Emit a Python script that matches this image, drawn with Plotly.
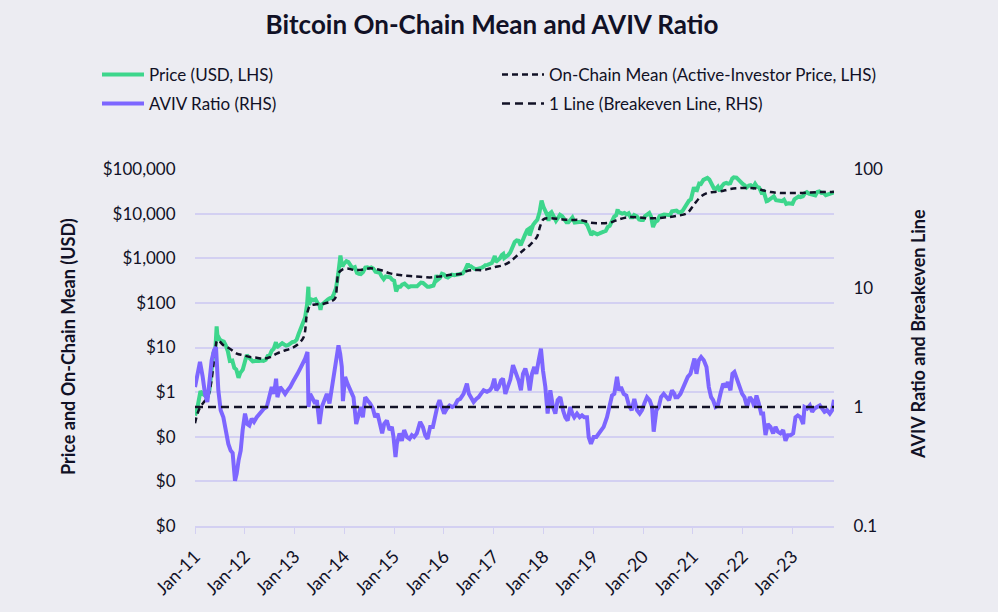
import pandas as pd
import plotly.graph_objects as go

# ---------------- data (decimal years / values) ----------------
price_t = [2011.00, 2011.04, 2011.08, 2011.11, 2011.16, 2011.21, 2011.25, 2011.29, 2011.33, 2011.37,
           2011.41, 2011.435, 2011.45, 2011.47, 2011.50, 2011.54, 2011.58, 2011.62, 2011.66, 2011.70,
           2011.75, 2011.79, 2011.83, 2011.875, 2011.91, 2011.96, 2012.00, 2012.04, 2012.08, 2012.125,
           2012.16, 2012.21, 2012.25, 2012.29, 2012.33, 2012.375, 2012.42, 2012.46, 2012.50, 2012.54,
           2012.58, 2012.625, 2012.64, 2012.67, 2012.71, 2012.75, 2012.79, 2012.83, 2012.875, 2012.92,
           2012.96, 2013.00, 2013.04, 2013.08, 2013.125, 2013.16, 2013.21, 2013.25, 2013.275, 2013.29,
           2013.33, 2013.375, 2013.42, 2013.46, 2013.50, 2013.52, 2013.54, 2013.58, 2013.625, 2013.67,
           2013.71, 2013.75, 2013.79, 2013.83, 2013.875, 2013.92, 2013.94, 2013.96, 2013.99, 2014.04,
           2014.08, 2014.12, 2014.16, 2014.21, 2014.25, 2014.29, 2014.33, 2014.375, 2014.42, 2014.46,
           2014.50, 2014.54, 2014.58, 2014.625, 2014.67, 2014.71, 2014.75, 2014.79, 2014.83, 2014.875,
           2014.92, 2014.96, 2015.00, 2015.04, 2015.08, 2015.125, 2015.16, 2015.21, 2015.25, 2015.29,
           2015.33, 2015.375, 2015.42, 2015.46, 2015.50, 2015.54, 2015.58, 2015.625, 2015.67, 2015.71,
           2015.75, 2015.79, 2015.83, 2015.85, 2015.875, 2015.92, 2015.96, 2016.00, 2016.04, 2016.08,
           2016.125, 2016.16, 2016.21, 2016.25, 2016.29, 2016.33, 2016.375, 2016.42, 2016.46, 2016.48,
           2016.50, 2016.54, 2016.58, 2016.625, 2016.67, 2016.71, 2016.75, 2016.79, 2016.83, 2016.875,
           2016.92, 2016.96, 2017.00, 2017.02, 2017.04, 2017.08, 2017.125, 2017.16, 2017.19, 2017.21,
           2017.25, 2017.29, 2017.33, 2017.375, 2017.42, 2017.46, 2017.50, 2017.54, 2017.58, 2017.625,
           2017.67, 2017.71, 2017.72, 2017.75, 2017.79, 2017.83, 2017.875, 2017.92, 2017.96, 2018.00,
           2018.04, 2018.08, 2018.10, 2018.125, 2018.16, 2018.21, 2018.25, 2018.29, 2018.33, 2018.375,
           2018.42, 2018.46, 2018.50, 2018.54, 2018.58, 2018.625, 2018.67, 2018.71, 2018.75, 2018.79,
           2018.83, 2018.875, 2018.92, 2018.96, 2019.00, 2019.04, 2019.08, 2019.125, 2019.16, 2019.21,
           2019.25, 2019.29, 2019.33, 2019.375, 2019.42, 2019.46, 2019.49, 2019.50, 2019.54, 2019.58,
           2019.625, 2019.67, 2019.71, 2019.75, 2019.79, 2019.82, 2019.875, 2019.92, 2019.96, 2020.00,
           2020.04, 2020.08, 2020.125, 2020.16, 2020.20, 2020.21, 2020.25, 2020.29, 2020.33, 2020.375,
           2020.42, 2020.46, 2020.50, 2020.54, 2020.58, 2020.625, 2020.67, 2020.71, 2020.75, 2020.79,
           2020.83, 2020.875, 2020.92, 2020.96, 2021.00, 2021.02, 2021.04, 2021.08, 2021.125, 2021.16,
           2021.21, 2021.25, 2021.29, 2021.33, 2021.375, 2021.42, 2021.46, 2021.50, 2021.54, 2021.58,
           2021.625, 2021.67, 2021.71, 2021.75, 2021.79, 2021.82, 2021.875, 2021.92, 2021.96, 2022.00,
           2022.04, 2022.08, 2022.125, 2022.16, 2022.21, 2022.25, 2022.29, 2022.33, 2022.375, 2022.42,
           2022.46, 2022.48, 2022.50, 2022.54, 2022.58, 2022.625, 2022.67, 2022.71, 2022.75, 2022.79,
           2022.83, 2022.875, 2022.92, 2022.96, 2023.00, 2023.04, 2023.08, 2023.125, 2023.16, 2023.21,
           2023.25, 2023.29, 2023.33, 2023.375, 2023.42, 2023.46, 2023.50, 2023.54, 2023.58, 2023.625,
           2023.67, 2023.71, 2023.75, 2023.79, 2023.81, 2023.835]
price_v = [0.30, 0.40, 0.70, 1.05, 0.90, 0.85, 0.78, 1.10, 3.0, 7.5,
           9.5, 29.6, 19, 17, 15, 14, 13.5, 11, 8.2, 5.0,
           5.1, 3.5, 3.2, 2.1, 2.7, 3.2, 5.2, 6.8, 6.0, 5.2,
           4.9, 5.0, 4.9, 5.0, 5.1, 5.0, 5.3, 6.5, 6.7, 8.5,
           9.3, 13.2, 10.0, 10.5, 11.8, 12.5, 11.7, 11.0, 11.4, 12.5,
           13.3, 13.5, 15.0, 20.0, 27.0, 34, 47, 93, 230, 90,
           120, 115, 120, 100, 88, 70, 90, 98, 110, 120,
           127, 130, 160, 210, 440, 1150, 850, 650, 750, 860,
           820, 680, 600, 630, 470, 450, 440, 490, 620, 630,
           600, 620, 590, 500, 480, 470, 390, 340, 390, 380,
           375, 330, 315, 180, 230, 230, 255, 270, 245, 225,
           235, 235, 225, 235, 260, 285, 280, 260, 230, 230,
           240, 245, 320, 420, 330, 360, 450, 432, 385, 370,
           400, 430, 415, 420, 430, 450, 455, 530, 700, 750,
           660, 660, 610, 575, 575, 610, 610, 640, 700, 710,
           750, 780, 990, 1130, 830, 920, 1000, 1180, 1250, 1010,
           1080, 1180, 1350, 1750, 2300, 2500, 2450, 1950, 2700, 3300,
           4300, 4600, 3200, 4300, 5600, 6400, 7300, 10800, 19500, 14000,
           11400, 9000, 6900, 10000, 10800, 8200, 6900, 8000, 9400, 8700,
           7500, 6400, 6400, 7300, 8200, 6300, 6500, 6500, 6600, 6450,
           6400, 5600, 4200, 3300, 3800, 3600, 3450, 3600, 3800, 3950,
           4100, 5000, 5300, 7200, 8600, 9200, 12500, 11000, 10500, 10000,
           10400, 9600, 10200, 8300, 8300, 9300, 8700, 7400, 7200, 7200,
           8800, 9350, 10300, 8600, 5000, 5400, 6600, 7000, 8800, 9300,
           9500, 9400, 9100, 9200, 11300, 11800, 11700, 10800, 10800, 11400,
           13800, 15900, 19500, 21000, 29000, 39000, 34000, 33500, 47000, 46000,
           57000, 58800, 63000, 57800, 48000, 37000, 36000, 40000, 32000, 41000,
           47000, 49000, 47000, 48000, 61000, 65000, 64000, 57000, 48000, 46300,
           43000, 38500, 42500, 43500, 39000, 46500, 40000, 38500, 30000, 31500,
           22500, 19000, 19300, 20800, 23300, 24300, 20000, 20000, 19500, 19100,
           20500, 16500, 17000, 16800, 16600, 20900, 23100, 24300, 23500, 24500,
           28500, 30300, 28000, 27000, 26800, 25600, 30500, 31400, 29200, 29300,
           26000, 26900, 26900, 27800, 28500, 30000]

mean_t = [2011.00, 2011.05, 2011.10, 2011.18, 2011.26, 2011.32, 2011.37, 2011.41, 2011.44, 2011.47,
          2011.57, 2011.70, 2011.84, 2011.97, 2012.11, 2012.24, 2012.37, 2012.51, 2012.64, 2012.78,
          2012.91, 2013.04, 2013.18, 2013.24, 2013.27, 2013.31, 2013.45, 2013.58, 2013.71, 2013.81,
          2013.85, 2013.88, 2013.95, 2014.05, 2014.18, 2014.32, 2014.52, 2014.72, 2014.92, 2015.12,
          2015.32, 2015.52, 2015.72, 2015.86, 2015.99, 2016.13, 2016.33, 2016.46, 2016.60, 2016.80,
          2017.00, 2017.20, 2017.33, 2017.47, 2017.60, 2017.73, 2017.87, 2017.93, 2018.00, 2018.14,
          2018.34, 2018.54, 2018.74, 2018.94, 2019.14, 2019.34, 2019.48, 2019.68, 2019.88, 2020.08,
          2020.28, 2020.48, 2020.68, 2020.88, 2021.02, 2021.15, 2021.29, 2021.42, 2021.55, 2021.75,
          2021.95, 2022.16, 2022.29, 2022.42, 2022.56, 2022.76, 2022.96, 2023.16, 2023.36, 2023.56,
          2023.76, 2023.835]
mean_v = [0.2, 0.33, 0.45, 0.6, 0.8, 1.5, 4, 9, 14, 14.5,
          11.2, 9.4, 7.3, 6.7, 6.1, 5.9, 5.6, 6.1, 7.3, 8.4,
          9.4, 11.2, 17, 50, 69, 86, 93, 96, 105, 125,
          250, 460, 550, 590, 550, 545, 594, 545, 458, 420,
          400, 385, 372, 385, 400, 427, 443, 515, 545, 545,
          625, 705, 840, 1150, 1535, 2000, 3060, 5130, 7500, 7900,
          7500, 7200, 7200, 6300, 6100, 6300, 7200, 8300, 8300, 7900,
          7900, 8300, 8900, 10200, 15800, 23600, 29000, 30400, 31500, 35500,
          37400, 37400, 36200, 33000, 30400, 29000, 29000, 29000, 29800, 30400,
          30400, 31000]

aviv_t = [2011.000, 2011.034, 2011.100, 2011.154, 2011.201, 2011.248, 2011.288, 2011.335, 2011.382, 2011.422,
          2011.469, 2011.516, 2011.570, 2011.623, 2011.670, 2011.717, 2011.757, 2011.804, 2011.838, 2011.878,
          2011.918, 2011.958, 2012.005, 2012.052, 2012.092, 2012.139, 2012.186, 2012.240, 2012.293, 2012.340,
          2012.387, 2012.441, 2012.494, 2012.541, 2012.588, 2012.628, 2012.655, 2012.709, 2012.762, 2012.809,
          2012.856, 2012.910, 2012.963, 2013.010, 2013.057, 2013.111, 2013.164, 2013.211, 2013.258, 2013.278,
          2013.312, 2013.365, 2013.412, 2013.446, 2013.499, 2013.546, 2013.593, 2013.647, 2013.700, 2013.747,
          2013.794, 2013.834, 2013.881, 2013.915, 2013.948, 2013.970, 2013.990, 2014.015, 2014.062, 2014.116,
          2014.183, 2014.237, 2014.284, 2014.330, 2014.371, 2014.418, 2014.464, 2014.518, 2014.572, 2014.619,
          2014.666, 2014.719, 2014.759, 2014.799, 2014.853, 2014.907, 2014.954, 2014.987, 2015.027, 2015.054,
          2015.108, 2015.155, 2015.201, 2015.255, 2015.309, 2015.356, 2015.402, 2015.456, 2015.523, 2015.577,
          2015.624, 2015.671, 2015.724, 2015.778, 2015.831, 2015.872, 2015.912, 2015.959, 2016.005, 2016.059,
          2016.113, 2016.166, 2016.220, 2016.273, 2016.327, 2016.394, 2016.461, 2016.501, 2016.541, 2016.595,
          2016.649, 2016.696, 2016.742, 2016.796, 2016.863, 2016.917, 2016.964, 2017.010, 2017.051, 2017.098,
          2017.145, 2017.185, 2017.232, 2017.279, 2017.332, 2017.386, 2017.430, 2017.460, 2017.499, 2017.546,
          2017.587, 2017.634, 2017.681, 2017.721, 2017.768, 2017.814, 2017.855, 2017.902, 2017.948, 2017.989,
          2018.036, 2018.082, 2018.136, 2018.190, 2018.237, 2018.283, 2018.337, 2018.391, 2018.438, 2018.484,
          2018.538, 2018.578, 2018.618, 2018.672, 2018.726, 2018.773, 2018.819, 2018.873, 2018.907, 2018.953,
          2019.007, 2019.061, 2019.108, 2019.154, 2019.208, 2019.275, 2019.329, 2019.376, 2019.422, 2019.476,
          2019.516, 2019.556, 2019.610, 2019.664, 2019.717, 2019.771, 2019.824, 2019.878, 2019.932, 2019.979,
          2020.026, 2020.079, 2020.133, 2020.180, 2020.213, 2020.267, 2020.314, 2020.360, 2020.414, 2020.468,
          2020.521, 2020.580, 2020.629, 2020.649, 2020.695, 2020.749, 2020.803, 2020.850, 2020.896, 2020.950,
          2021.004, 2021.030, 2021.071, 2021.118, 2021.164, 2021.218, 2021.272, 2021.319, 2021.365, 2021.406,
          2021.453, 2021.499, 2021.553, 2021.607, 2021.654, 2021.700, 2021.754, 2021.794, 2021.834, 2021.888,
          2021.942, 2021.989, 2022.035, 2022.089, 2022.143, 2022.190, 2022.236, 2022.277, 2022.324, 2022.371,
          2022.411, 2022.458, 2022.504, 2022.558, 2022.612, 2022.659, 2022.705, 2022.759, 2022.813, 2022.860,
          2022.906, 2022.960, 2023.014, 2023.061, 2023.107, 2023.161, 2023.215, 2023.242, 2023.295, 2023.349,
          2023.396, 2023.443, 2023.496, 2023.550, 2023.597, 2023.644, 2023.697, 2023.751, 2023.798, 2023.835]
aviv_v = [1.47, 1.79, 2.39, 1.80, 1.29, 1.10, 1.67, 2.47, 3.00, 3.19,
          1.38, 0.94, 0.82, 0.60, 0.49, 0.43, 0.41, 0.24, 0.275, 0.36,
          0.43, 0.64, 0.88, 0.72, 0.70, 0.80, 0.75, 0.82, 0.88, 0.91,
          0.97, 1.00, 1.29, 1.47, 1.29, 1.73, 1.21, 1.47, 1.38, 1.29,
          1.38, 1.47, 1.62, 1.79, 1.90, 2.10, 2.31, 2.55, 2.90, 1.00,
          1.29, 1.17, 1.07, 1.14, 0.72, 1.00, 1.14, 1.29, 1.07, 1.47,
          1.79, 2.31, 3.30, 2.80, 2.17, 1.12, 1.60, 1.79, 1.57, 1.38,
          1.21, 0.72, 0.88, 1.00, 0.82, 1.21, 1.14, 1.07, 0.97, 0.82,
          0.88, 0.68, 0.60, 0.72, 0.77, 0.64, 0.68, 0.56, 0.38, 0.49,
          0.60, 0.52, 0.64, 0.56, 0.54, 0.58, 0.56, 0.60, 0.75, 0.68,
          0.58, 0.54, 0.68, 0.68, 0.88, 1.03, 1.14, 1.00, 0.88, 0.97,
          1.03, 1.00, 1.03, 1.14, 1.17, 1.29, 1.57, 1.29, 1.21, 1.10,
          1.17, 1.21, 1.29, 1.38, 1.34, 1.38, 1.47, 1.73, 1.38, 1.47,
          1.67, 1.73, 1.29, 1.47, 1.70, 2.25, 2.00, 1.90, 1.67, 1.38,
          1.90, 2.10, 1.79, 1.38, 1.90, 2.17, 1.90, 2.47, 3.09, 2.03,
          1.47, 0.88, 1.38, 1.00, 0.88, 1.14, 1.21, 0.94, 0.82, 0.77,
          1.00, 0.88, 0.82, 0.88, 0.82, 0.85, 0.82, 0.82, 0.56, 0.49,
          0.56, 0.56, 0.60, 0.64, 0.68, 0.82, 1.00, 1.25, 1.29, 1.79,
          1.38, 1.47, 1.29, 1.25, 1.03, 0.94, 1.17, 0.94, 0.88, 0.94,
          1.07, 1.21, 1.14, 1.00, 0.62, 0.94, 1.00, 1.21, 1.29, 1.21,
          1.14, 1.38, 1.29, 1.21, 1.21, 1.29, 1.47, 1.67, 1.79, 1.90,
          2.31, 2.55, 1.90, 2.47, 2.63, 2.47, 2.17, 1.47, 1.21, 1.14,
          1.00, 1.03, 1.29, 1.57, 1.47, 1.62, 1.38, 1.90, 1.97, 1.67,
          1.47, 1.29, 1.21, 1.00, 1.21, 1.14, 1.00, 1.25, 1.07, 0.88,
          0.88, 0.58, 0.72, 0.68, 0.60, 0.68, 0.62, 0.60, 0.64, 0.52,
          0.58, 0.58, 0.60, 0.82, 0.85, 0.82, 0.72, 1.00, 0.97, 1.03,
          0.91, 0.97, 1.00, 1.03, 0.97, 0.91, 0.94, 0.88, 0.94, 1.15]

breakeven_value = 1.0

left_tickvals = [1e5, 1e4, 1e3, 1e2, 1e1, 1, 1e-1, 1e-2, 1e-3]
left_ticktext = ["$100,000", "$10,000", "$1,000", "$100", "$10", "$1", "$0", "$0", "$0"]
right_tickvals = [0.1, 1, 10, 100]
right_ticktext = ["0.1", "1", "10", "100"]

title_text = "Bitcoin On-Chain Mean and AVIV Ratio"
left_title = "Price and On-Chain Mean (USD)"
right_title = "AVIV Ratio and Breakeven Line"


def to_date(y):
    yr = int(y)
    start = pd.Timestamp(yr, 1, 1)
    n_days = (pd.Timestamp(yr + 1, 1, 1) - start).days
    return start + pd.Timedelta(days=(y - yr) * n_days)


price_d = [to_date(t) for t in price_t]
mean_d = [to_date(t) for t in mean_t]
aviv_d = [to_date(t) for t in aviv_t]
x_start = to_date(2011.0)
x_end = to_date(aviv_t[-1])

# ---------------- style ----------------
BG = "#ECECF2"
GRID = "#D3D0F2"
GREEN = "#3DD68C"
PURPLE = "#7D66FF"
DARK = "#111126"
FONT = "Lato"

PLOT_L, PLOT_R, PLOT_T, PLOT_B = 195, 834, 169, 526
PW, PH = PLOT_R - PLOT_L, PLOT_B - PLOT_T


def px_x(x):
    return (x - PLOT_L) / PW


def px_y(y):
    return (PLOT_B - y) / PH


fig = go.Figure()
fig.add_trace(go.Scatter(x=price_d, y=price_v, mode="lines", name="Price (USD, LHS)",
                         line=dict(color=GREEN, width=4), yaxis="y", legend="legend5",
                         showlegend=True))
fig.add_trace(go.Scatter(x=mean_d, y=mean_v, mode="lines", line_shape="spline",
                         name="On-Chain Mean (Active-Investor Price, LHS)",
                         line=dict(color=DARK, width=2.5, dash="6px,4px"), yaxis="y", legend="legend2",
                         showlegend=True))
fig.add_trace(go.Scatter(x=aviv_d, y=aviv_v, mode="lines", name="AVIV Ratio (RHS)",
                         line=dict(color=PURPLE, width=4), yaxis="y2", legend="legend3",
                         showlegend=True))
fig.add_trace(go.Scatter(x=[x_start, x_end], y=[breakeven_value, breakeven_value], mode="lines",
                         name="1 Line (Breakeven Line, RHS)",
                         line=dict(color=DARK, width=2.5, dash="8px,5px"), yaxis="y2", legend="legend4",
                         showlegend=True))


def leg(xpx, ypx):
    return dict(orientation="h", xanchor="left", yanchor="middle", itemwidth=42,
                font=dict(family=FONT, size=17, color=DARK), bgcolor="rgba(0,0,0,0)",
                x=px_x(xpx), y=px_y(ypx), visible=True)


fig.update_layout(
    width=998, height=612,
    showlegend=True,
    paper_bgcolor=BG, plot_bgcolor=BG,
    margin=dict(l=PLOT_L, r=998 - PLOT_R, t=PLOT_T, b=612 - PLOT_B),
    font=dict(family=FONT, color=DARK),
    title=dict(text=title_text, x=0.493, xanchor="center", y=1 - 25 / 612, yanchor="middle",
               font=dict(family=FONT, size=26, color=DARK, weight="bold")),
    legend=dict(visible=False),
    legend5=leg(97, 75),
    legend2=leg(497, 75),
    legend3=leg(97, 104),
    legend4=leg(497, 104),
    xaxis=dict(type="date", range=[x_start, x_end], tickformat="%b-%y", dtick="M12",
               tick0="2011-01-01", tickangle=-45, showgrid=False, showline=True, linecolor=GRID,
               linewidth=2, ticks="outside", ticklen=6, tickcolor=GRID, ticklabelstandoff=5,
               tickfont=dict(family=FONT, size=18, color=DARK), zeroline=False),
    yaxis=dict(type="log", range=[-3, 5], tickvals=left_tickvals, ticktext=left_ticktext,
               showgrid=True, gridcolor=GRID, gridwidth=1.5, zeroline=False,
               ticks="outside", ticklen=15, tickcolor="rgba(0,0,0,0)",
               tickfont=dict(family=FONT, size=17, color=DARK)),
    yaxis2=dict(type="log", range=[-1, 2], overlaying="y", side="right", tickvals=right_tickvals,
                ticktext=right_ticktext, showgrid=False, zeroline=False,
                ticks="outside", ticklen=15, tickcolor="rgba(0,0,0,0)",
                tickfont=dict(family=FONT, size=17, color=DARK)),
    annotations=[
        dict(text=left_title, xref="paper", yref="paper", x=px_x(68), y=px_y(347),
             textangle=-90, showarrow=False, xanchor="center", yanchor="middle",
             font=dict(family=FONT, size=18, color=DARK, weight="bold")),
        dict(text=right_title, xref="paper", yref="paper", x=px_x(918), y=px_y(334),
             textangle=-90, showarrow=False, xanchor="center", yanchor="middle",
             font=dict(family=FONT, size=18, color=DARK, weight="bold")),
    ],
)

fig.write_html("out.html", config={"displayModeBar": False},
               post_script="document.body.style.margin='0';")
